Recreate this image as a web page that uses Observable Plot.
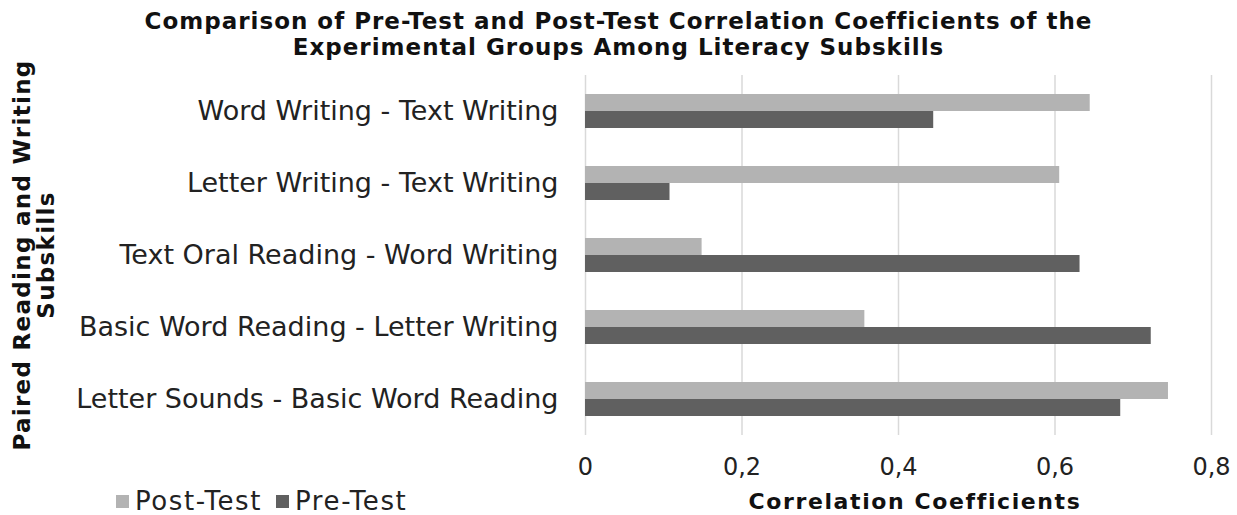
<!DOCTYPE html>
<html>
<head>
<meta charset="utf-8">
<script src="https://cdn.jsdelivr.net/npm/d3@7"></script>
<script src="https://cdn.jsdelivr.net/npm/@observablehq/plot@0.6"></script>
<style>
  html, body { margin: 0; padding: 0; background: #fff; }
  #wrap { position: relative; width: 1237px; height: 515px; font-family: "DejaVu Sans", sans-serif; color: #222; overflow: hidden; }
  #title { position: absolute; top: 8px; left: 0; width: 1237px; text-align: center; font-weight: bold; font-size: 23px; line-height: 26px; letter-spacing: 1px; color: #111; }
  #chart { position: absolute; top: 66px; left: 0; }
  #ytitle { position: absolute; left: 34px; top: 255px; transform: translate(-50%, -50%) rotate(-90deg); white-space: nowrap; text-align: center; font-weight: bold; font-size: 23px; line-height: 24px; letter-spacing: 1.3px; color: #111; }
  #xtitle { position: absolute; left: 915px; top: 501px; transform: translate(-50%, -50%); white-space: nowrap; font-weight: bold; font-size: 22px; letter-spacing: 1.6px; color: #111; }
  #legend { position: absolute; left: 116px; top: 501px; transform: translateY(-50%); display: flex; align-items: center; font-size: 26px; letter-spacing: 1.6px; white-space: nowrap; }
  .sw { display: inline-block; width: 13px; height: 13px; margin-right: 6px; }
  .item { display: flex; align-items: center; margin-right: 14px; }
</style>
</head>
<body>
<div id="wrap">
  <div id="title"></div>
  <div id="chart"></div>
  <div id="ytitle"></div>
  <div id="xtitle"></div>
  <div id="legend"></div>
</div>
<script>
const titleLines = ["Comparison of Pre-Test and Post-Test Correlation Coefficients of the", "Experimental Groups Among Literacy Subskills"];
const yTitleLines = ["Paired Reading and Writing", "Subskills"];
const xTitle = "Correlation Coefficients";

const categories = [
  "Word Writing - Text Writing",
  "Letter Writing - Text Writing",
  "Text Oral Reading - Word Writing",
  "Basic Word Reading - Letter Writing",
  "Letter Sounds - Basic Word Reading"
];
const series = ["Post-Test", "Pre-Test"];
const seriesColors = ["#b3b3b3", "#606060"];
const postTest = [0.645, 0.606, 0.149, 0.357, 0.745];
const preTest = [0.445, 0.108, 0.632, 0.723, 0.684];
const xTicks = [0, 0.2, 0.4, 0.6, 0.8];
const xTickLabels = ["0", "0,2", "0,4", "0,6", "0,8"];

const data = [];
categories.forEach((c, i) => {
  data.push({category: c, series: series[0], value: postTest[i]});
  data.push({category: c, series: series[1], value: preTest[i]});
});

document.getElementById("title").innerHTML = titleLines.join("<br>");
document.getElementById("ytitle").innerHTML = yTitleLines.join("<br>");
document.getElementById("xtitle").textContent = xTitle;
const leg = document.getElementById("legend");
series.forEach((s, i) => {
  const it = document.createElement("span");
  it.className = "item";
  it.innerHTML = `<span class="sw" style="background:${seriesColors[i]}"></span>${s}`;
  leg.appendChild(it);
});

const chart = Plot.plot({
  width: 1237,
  height: 449,
  marginLeft: 585,
  marginRight: 26,
  marginTop: 8,
  marginBottom: 79,
  style: { fontFamily: "DejaVu Sans, sans-serif", fontSize: "23px", color: "#222", background: "transparent" },
  x: { domain: [0, 0.8] },
  fy: { domain: categories, padding: 0 },
  y: { domain: series, paddingInner: 0, paddingOuter: 1.04, axis: null },
  color: { domain: series, range: seriesColors },
  marks: [
    Plot.gridX(xTicks, { stroke: "#d9d9d9", strokeOpacity: 1, strokeWidth: 1.5 }),
    Plot.barX(data, { x: "value", y: "series", fy: "category", fill: "series" }),
    Plot.axisX({ ticks: xTicks, tickFormat: (d) => xTickLabels[xTicks.indexOf(d)], tickSize: 0, tickPadding: 22, label: null, fontSize: 24 }),
    Plot.axisFy({ anchor: "left", tickSize: 0, tickPadding: 27, label: null, fontSize: 27 })
  ]
});
document.getElementById("chart").appendChild(chart);
</script>
</body>
</html>
